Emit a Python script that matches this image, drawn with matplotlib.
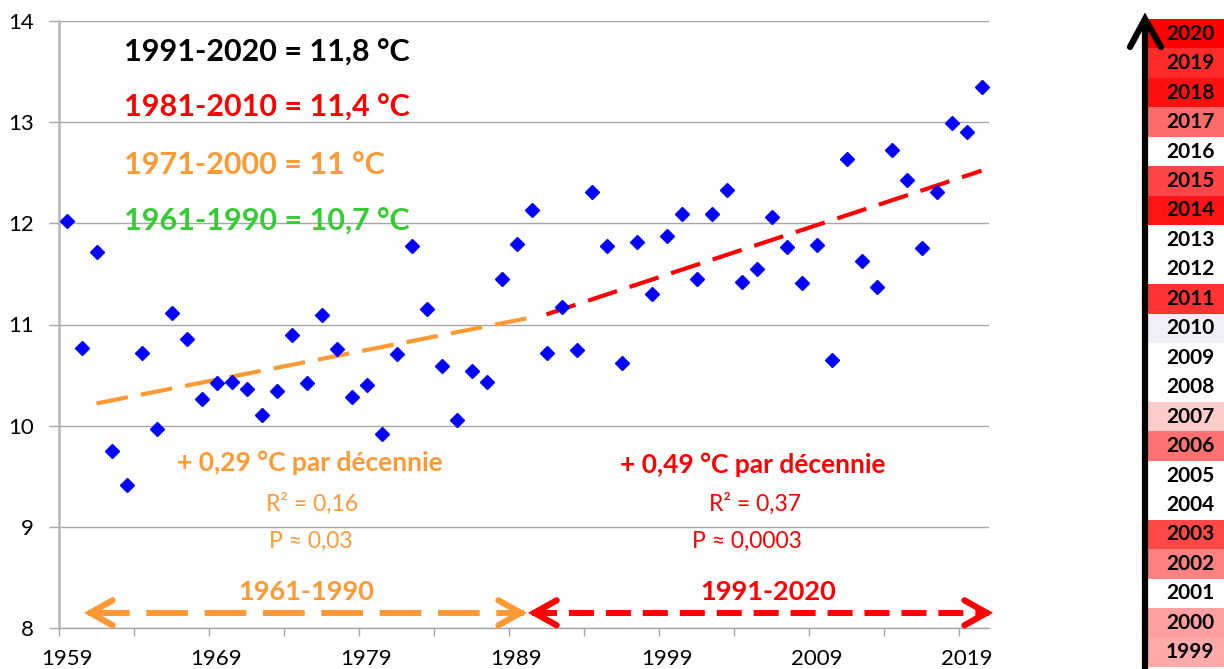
import matplotlib
matplotlib.use("Agg")
import matplotlib.pyplot as plt
from matplotlib.lines import Line2D
import numpy as np

plt.rcParams['font.family'] = ['Lato', 'DejaVu Sans']
plt.rcParams['lines.scale_dashes'] = False

# ---------------- data ----------------
years = list(range(1959, 2021))
temps = [12.02, 10.77, 11.72, 9.75, 9.41, 10.72, 9.97, 11.11, 10.86, 10.26,
         10.42, 10.43, 10.36, 10.11, 10.34, 10.90, 10.42, 11.09, 10.76, 10.28,
         10.40, 9.92, 10.71, 11.78, 11.15, 10.59, 10.06, 10.54, 10.43, 11.45,
         11.80, 12.13, 10.72, 11.17, 10.75, 12.31, 11.78, 10.62, 11.82, 11.30,
         11.87, 12.09, 11.45, 12.09, 12.33, 11.42, 11.55, 12.06, 11.77, 11.41,
         11.79, 10.65, 12.64, 11.63, 11.37, 12.72, 12.43, 11.76, 12.31, 12.99,
         12.90, 13.35]

trend_old_years = [1961, 1990]
trend_old_vals = [10.22, 11.07]
trend_new_years = [1991, 2020]
trend_new_vals = [11.10, 12.52]

normals_labels = ["1991-2020 = 11,8 °C", "1981-2010 = 11,4 °C",
                  "1971-2000 = 11 °C", "1961-1990 = 10,7 °C"]

x_tick_labels = ["1959", "1969", "1979", "1989", "1999", "2009", "2019"]
y_ticks = [8, 9, 10, 11, 12, 13, 14]

rank_years = list(range(1999, 2021))
rank_colors = ["#ffaaaa", "#ffa0a0", "#ffffff", "#ff8080", "#ff4848",
               "#ffffff", "#ffffff", "#ff7272", "#ffcccc", "#ffffff",
               "#ffffff", "#f0f0fb", "#ff3333", "#ffffff", "#ffffff",
               "#ff1414", "#ff4545", "#ffffff", "#ff6b6b", "#ff1010",
               "#ff2b2b", "#ff0000"]

ORANGE = "#ff9933"
RED = "#ff0000"
GREEN = "#33cc33"
BLUE = "#0000ff"

W, H = 1224, 669
fig = plt.figure(figsize=(W / 100, H / 100), dpi=100)
ax = fig.add_axes([59 / W, 41 / H, 930 / W, 607 / H])

ax.set_xlim(1958.5, 2020.5)
ax.set_ylim(8, 14)

# grid
ax.set_yticks(y_ticks)
ax.set_yticklabels([str(v) for v in y_ticks])
ax.yaxis.grid(True, color="#a6a6a6", lw=1.0)
ax.set_axisbelow(True)
for s in ["top", "right"]:
    ax.spines[s].set_visible(False)
ax.spines["left"].set_color("#b5b5b5")
ax.spines["left"].set_linewidth(1.8)
ax.spines["bottom"].set_color("#a6a6a6")
ax.spines["bottom"].set_linewidth(1.0)

ax.tick_params(axis="y", length=7, width=1.0, color="#a6a6a6", pad=11,
               labelsize=16, labelcolor="#000000")
major_x = np.arange(1958.5, 2020.6, 5)
ax.set_xticks(major_x)
ax.set_xticklabels([""] * len(major_x))
ax.tick_params(axis="x", which="major", length=6, width=1.0, color="#a6a6a6")
label_pos = [int(s) for s in x_tick_labels]
ax.set_xticks(label_pos, minor=True)
ax.set_xticklabels(x_tick_labels, minor=True)
ax.tick_params(axis="x", which="minor", length=0, pad=15, labelsize=16)

# data points
ax.plot(years, temps, linestyle="none", marker="D", ms=7.5, color=BLUE, zorder=5)

# trends
ax.plot(trend_old_years, trend_old_vals, color=ORANGE, lw=3, dashes=(23, 9.5),
        dash_capstyle="butt", zorder=4)
ax.plot(trend_new_years, trend_new_vals, color=RED, lw=3, dashes=(22, 9.5),
        dash_capstyle="butt", zorder=4)

# normals text
norm_colors = ["#000000", RED, ORANGE, GREEN]
norm_y = [13.69, 13.14, 12.58, 12.02]
for lab, c, yv in zip(normals_labels, norm_colors, norm_y):
    ax.text(1962.8, yv, lab, color=c, fontsize=22, fontweight="bold",
            ha="left", va="center", zorder=6)

# trend annotations
ax.text(1975.2, 9.63, "+ 0,29 °C par décennie", color=ORANGE, fontsize=19,
        fontweight="bold", ha="center", va="center")
ax.text(1975.35, 9.23, "R² = 0,16", color=ORANGE, fontsize=16.5, ha="center", va="center")
ax.text(1975.3, 8.86, "P ≈ 0,03", color=ORANGE, fontsize=16.5, ha="center", va="center")
ax.text(1975.0, 8.36, "1961-1990", color=ORANGE, fontsize=19.5, fontweight="bold",
        ha="center", va="center")

ax.text(2004.73, 9.61, "+ 0,49 °C par décennie", color=RED, fontsize=19,
        fontweight="bold", ha="center", va="center")
ax.text(2004.87, 9.23, "R² = 0,37", color=RED, fontsize=16.5, ha="center", va="center")
ax.text(2004.33, 8.86, "P ≈ 0,0003", color=RED, fontsize=16.5, ha="center", va="center")
ax.text(2005.77, 8.36, "1991-2020", color=RED, fontsize=19.5, fontweight="bold",
        ha="center", va="center")

# period arrows
ya = 8.15
def chevron(tip, frm, color):
    ax.annotate("", xy=(tip, ya), xytext=(frm, ya),
                arrowprops=dict(arrowstyle="->,head_length=0.8,head_width=0.45",
                                color=color, lw=4.5, mutation_scale=20,
                                shrinkA=0, shrinkB=0, capstyle="round",
                                joinstyle="miter"),
                annotation_clip=False, zorder=6)

ax.plot([1960.4, 1989.5], [ya, ya], color=ORANGE, lw=4.3, dashes=(30, 12),
        dash_capstyle="butt", clip_on=False, zorder=5)
chevron(1960.17, 1961.0, ORANGE)
chevron(1989.7, 1988.9, ORANGE)
ax.plot([1990.0, 2020.5], [ya, ya], color=RED, lw=4.3, dashes=(18, 8.6),
        dash_capstyle="butt", clip_on=False, zorder=5)
chevron(1989.77, 1990.6, RED)
chevron(2020.77, 2020.0, RED)

# right-side ranking strip
ax2 = fig.add_axes([1147 / W, 2 / H, 77 / W, 648 / H])
ax2.barh(rank_years, [1] * len(rank_years), height=1.0, color=rank_colors,
         edgecolor="none")
ax2.set_xlim(0, 1)
ax2.set_ylim(rank_years[0] - 0.5, rank_years[-1] + 0.5)
ax2.axis("off")
for yr in rank_years:
    ax2.text(0.56, yr, str(yr), ha="center", va="center", fontsize=15,
             fontweight="bold", color="#000000")

# black arrow
def fx(px):
    return px / W
def fy(py):
    return 1 - py / H
fig.add_artist(Line2D([fx(1145), fx(1145)], [fy(669), fy(19)], color="black",
                      lw=4.5, solid_capstyle="butt", transform=fig.transFigure))
fig.add_artist(Line2D([fx(1130), fx(1145), fx(1161)], [fy(47), fy(19), fy(47)],
                      color="black", lw=4.5, solid_capstyle="round",
                      solid_joinstyle="miter", transform=fig.transFigure))

fig.savefig("out.png", dpi=100)
